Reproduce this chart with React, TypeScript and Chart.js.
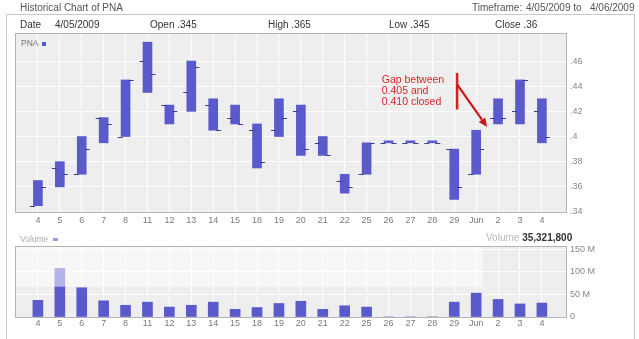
import React, { useEffect, useRef } from 'react';
import { Chart, registerables } from 'chart.js';

Chart.register(...registerables);

const FONT = '"Liberation Sans", Arial, sans-serif';

// ---- data ----
const categories = ['4', '5', '6', '7', '8', '11', '12', '13', '14', '15', '18', '19', '20', '21', '22', '25', '26', '27', '28', '29', 'Jun', '2', '3', '4'];
const openP = [0.345, 0.375, 0.37, 0.415, 0.40, 0.46, 0.425, 0.435, 0.425, 0.415, 0.405, 0.405, 0.42, 0.395, 0.365, 0.37, 0.395, 0.395, 0.395, 0.39, 0.37, 0.415, 0.42, 0.42];
const highP = [0.365, 0.38, 0.40, 0.415, 0.445, 0.475, 0.425, 0.46, 0.43, 0.425, 0.41, 0.43, 0.425, 0.40, 0.37, 0.395, 0.395, 0.395, 0.395, 0.39, 0.405, 0.43, 0.445, 0.43];
const lowP = [0.345, 0.36, 0.37, 0.395, 0.40, 0.435, 0.41, 0.42, 0.405, 0.41, 0.375, 0.40, 0.385, 0.385, 0.355, 0.37, 0.395, 0.395, 0.395, 0.35, 0.37, 0.41, 0.41, 0.395];
const closeP = [0.36, 0.37, 0.39, 0.41, 0.445, 0.45, 0.42, 0.455, 0.405, 0.41, 0.38, 0.415, 0.39, 0.385, 0.36, 0.395, 0.395, 0.395, 0.395, 0.36, 0.39, 0.415, 0.445, 0.40];
const volumeM = [37, 108, 65, 36, 26, 33, 22, 26, 33, 17, 21, 30, 35, 17, 25, 22, 0, 0, 0, 33, 53, 39, 29, 31];

const priceTicks = [0.34, 0.36, 0.38, 0.40, 0.42, 0.44, 0.46];
const volumeTicks = [0, 50, 100, 150];
const volumeTickLabels = ['0', '50 M', '100 M', '150 M'];

const selectedDate = '4/05/2009';
const timeframeFrom = '4/05/2009';
const timeframeTo = '4/06/2009';
const lastVolume = 35321800;
const noteLines = ['Gap between', '0.405 and', '0.410 closed'];

const BAR = '#5a5acc';
const TICK = '#3c3c9a';

const fmtPrice = (v: number) => Number(v.toFixed(3)).toString().replace(/^0/, '');

const panelPlugin = {
  id: 'panel',
  beforeDraw(chart: any) {
    const { ctx, chartArea: a } = chart;
    ctx.save();
    ctx.fillStyle = '#eeeeee';
    ctx.fillRect(a.left, a.top, a.right - a.left, a.bottom - a.top);
    ctx.restore();
  },
  afterDraw(chart: any) {
    const { ctx, chartArea: a } = chart;
    ctx.save();
    ctx.strokeStyle = '#b4b4b4';
    ctx.lineWidth = 1;
    ctx.strokeRect(Math.round(a.left) - 0.5, Math.round(a.top) - 0.5, Math.round(a.right - a.left) + 1, Math.round(a.bottom - a.top) + 1);
    ctx.restore();
  },
};

const ohlcTickPlugin = {
  id: 'ohlcTicks',
  afterDatasetsDraw(chart: any) {
    const { ctx } = chart;
    const x = chart.scales.x;
    const y = chart.scales.y;
    ctx.save();
    ctx.strokeStyle = TICK;
    ctx.lineWidth = 1;
    categories.forEach((_, i) => {
      const cx = x.getPixelForValue(i);
      const yo = Math.round(y.getPixelForValue(openP[i])) + 0.5;
      const yc = Math.round(y.getPixelForValue(closeP[i])) + 0.5;
      ctx.beginPath();
      ctx.moveTo(cx - 8, yo);
      ctx.lineTo(cx - 3, yo);
      ctx.moveTo(cx + 3, yc);
      ctx.lineTo(cx + 8, yc);
      ctx.stroke();
    });
    ctx.restore();
  },
};

const notePlugin = {
  id: 'gapNote',
  afterDatasetsDraw(chart: any) {
    const { ctx } = chart;
    const x = chart.scales.x;
    const y = chart.scales.y;
    ctx.save();
    ctx.fillStyle = '#d42828';
    ctx.font = `10.5px ${FONT}`;
    ctx.textBaseline = 'middle';
    ctx.textAlign = 'left';
    const tx = x.getPixelForValue(15.69);
    const ty = y.getPixelForValue(0.4452);
    noteLines.forEach((t, k) => ctx.fillText(t, tx, ty + k * 11.3));
    // arrow
    ctx.strokeStyle = '#dc1e1e';
    ctx.fillStyle = '#c81818';
    ctx.lineWidth = 2.5;
    const ax = x.getPixelForValue(19.13);
    ctx.beginPath();
    ctx.moveTo(ax, y.getPixelForValue(0.4505));
    ctx.lineTo(ax, y.getPixelForValue(0.4215));
    ctx.stroke();
    const sx = ax;
    const sy = y.getPixelForValue(0.4415);
    const ex = x.getPixelForValue(20.5);
    const ey = y.getPixelForValue(0.4075);
    const ang = Math.atan2(ey - sy, ex - sx);
    const hl = 9;
    const bx = ex - hl * Math.cos(ang);
    const by = ey - hl * Math.sin(ang);
    ctx.lineWidth = 2.2;
    ctx.strokeStyle = '#c81818';
    ctx.beginPath();
    ctx.moveTo(sx, sy);
    ctx.lineTo(bx, by);
    ctx.stroke();
    ctx.beginPath();
    ctx.moveTo(ex, ey);
    ctx.lineTo(bx + 4 * Math.sin(ang), by - 4 * Math.cos(ang));
    ctx.lineTo(bx - 4 * Math.sin(ang), by + 4 * Math.cos(ang));
    ctx.closePath();
    ctx.fill();
    ctx.restore();
  },
};

const washPlugin = {
  id: 'wash',
  afterDatasetsDraw(chart: any) {
    const { ctx, chartArea: a } = chart;
    const x = chart.scales.x;
    const y = chart.scales.y;
    ctx.save();
    ctx.fillStyle = 'rgba(255,255,255,0.55)';
    const r = x.getPixelForValue(20.3);
    const b = y.getPixelForValue(67.3);
    ctx.fillRect(a.left, a.top, r - a.left, b - a.top);
    ctx.restore();
  },
};

function xAxis(height: number, pad: number) {
  return {
    type: 'linear',
    min: -1,
    max: 24.1,
    offset: false,
    afterBuildTicks: (s: any) => {
      s.ticks = categories.map((_, i) => ({ value: i }));
    },
    afterFit: (s: any) => {
      s.height = height;
    },
    ticks: {
      autoSkip: false,
      maxRotation: 0,
      padding: pad,
      color: '#7a7a7a',
      font: { size: 9, family: FONT },
      callback: (v: number) => categories[v] ?? '',
    },
    grid: { color: 'rgba(255,255,255,0.9)', drawTicks: false, offset: false },
    border: { display: false },
  };
}

export default function App() {
  const priceRef = useRef<HTMLCanvasElement>(null);
  const volRef = useRef<HTMLCanvasElement>(null);

  useEffect(() => {
    const price = new Chart(priceRef.current as HTMLCanvasElement, {
      type: 'bar',
      data: {
        datasets: [
          {
            data: categories.map((_, i) => ({ x: i, y: [lowP[i], highP[i]] })) as any,
            backgroundColor: BAR,
            borderWidth: 0,
            barThickness: 9,
            minBarLength: 2,
          },
        ],
      },
      options: {
        animation: false,
        responsive: false,
        devicePixelRatio: 1,
        events: [],
        layout: { padding: { left: 16, top: 34, right: 13, bottom: 0 } },
        plugins: { legend: { display: false }, tooltip: { enabled: false } },
        scales: {
          x: xAxis(20, 3) as any,
          y: {
            type: 'linear',
            position: 'right',
            min: 0.34,
            max: 0.4815,
            afterBuildTicks: (s: any) => {
              s.ticks = priceTicks.map((v) => ({ value: v }));
            },
            afterFit: (s: any) => {
              s.width = 60;
            },
            ticks: {
              padding: 4,
              color: '#888',
              font: { size: 9, family: FONT },
              callback: (v: any) => fmtPrice(Number(v)),
            },
            grid: { color: 'rgba(255,255,255,0.9)', drawTicks: false },
            border: { display: false },
          },
        },
      },
      plugins: [panelPlugin, ohlcTickPlugin, notePlugin],
    });

    const vol = new Chart(volRef.current as HTMLCanvasElement, {
      type: 'bar',
      data: {
        datasets: [
          {
            data: categories.map((_, i) => ({ x: i, y: volumeM[i] })) as any,
            backgroundColor: BAR,
            borderWidth: 0,
            barThickness: 10,
          },
        ],
      },
      options: {
        animation: false,
        responsive: false,
        devicePixelRatio: 1,
        events: [],
        layout: { padding: { left: 16, top: 21, right: 13, bottom: 4 } },
        plugins: { legend: { display: false }, tooltip: { enabled: false } },
        scales: {
          x: xAxis(18, 1) as any,
          y: {
            type: 'linear',
            position: 'right',
            min: 0,
            max: 155.5,
            afterBuildTicks: (s: any) => {
              s.ticks = volumeTicks.map((v) => ({ value: v }));
            },
            afterFit: (s: any) => {
              s.width = 60;
            },
            ticks: {
              padding: 4,
              color: '#888',
              font: { size: 9, family: FONT },
              callback: (v: any) => volumeTickLabels[volumeTicks.indexOf(Number(v))] ?? '',
            },
            grid: { color: 'rgba(255,255,255,0.9)', drawTicks: false },
            border: { display: false },
          },
        },
      },
      plugins: [panelPlugin, washPlugin],
    });

    return () => {
      price.destroy();
      vol.destroy();
    };
  }, []);

  const abs = (left: number, top: number, extra: React.CSSProperties = {}): React.CSSProperties => ({
    position: 'absolute',
    left,
    top,
    whiteSpace: 'nowrap',
    lineHeight: '12px',
    ...extra,
  });

  return (
    <div
      style={{
        position: 'fixed',
        left: 0,
        top: 0,
        width: 639,
        height: 339,
        background: '#fff',
        overflow: 'hidden',
        fontFamily: FONT,
        fontSize: 10,
        color: '#555',
      }}
    >
      <div style={abs(6, 14, { width: 627, height: 340, border: '1px solid #c8c8c8', borderBottom: 'none' })} />
      <canvas ref={priceRef} width={639} height={232} style={{ position: 'absolute', left: 0, top: 0, display: 'block' }} />
      <canvas ref={volRef} width={639} height={113} style={{ position: 'absolute', left: 0, top: 226, display: 'block' }} />

      <div style={abs(20, 2)}>Historical Chart of PNA</div>
      <div style={abs(472, 2)}>Timeframe:</div>
      <div style={abs(526, 2)}>{timeframeFrom} to</div>
      <div style={abs(590, 2)}>{timeframeTo}</div>

      <div style={abs(20, 19, { color: '#333' })}>Date</div>
      <div style={abs(55, 19, { color: '#333' })}>{selectedDate}</div>
      <div style={abs(150, 19, { color: '#333' })}>Open {fmtPrice(openP[0])}</div>
      <div style={abs(268, 19, { color: '#333' })}>High {fmtPrice(highP[0])}</div>
      <div style={abs(389, 19, { color: '#333' })}>Low {fmtPrice(lowP[0])}</div>
      <div style={abs(495, 19, { color: '#333' })}>Close {fmtPrice(closeP[0])}</div>

      <div style={abs(21, 37, { fontSize: 8.5, color: '#777' })}>
        PNA <span style={{ display: 'inline-block', width: 4, height: 4, background: BAR, marginLeft: 2, verticalAlign: 'middle' }} />
      </div>

      <div style={abs(20, 233, { fontSize: 8.5, color: '#aaa' })}>
        Volume <span style={{ display: 'inline-block', width: 5, height: 3, background: '#9a9ae0', marginLeft: 2, verticalAlign: 'middle' }} />
      </div>
      <div style={abs(486, 232, { fontSize: 10 })}>
        <span style={{ color: '#b8b8b8' }}>Volume </span>
        <span style={{ color: '#333', fontWeight: 'bold' }}>{lastVolume.toLocaleString('en-US')}</span>
      </div>
    </div>
  );
}
